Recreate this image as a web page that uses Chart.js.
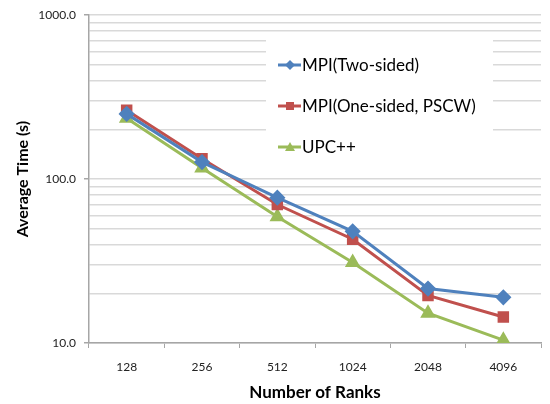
<!DOCTYPE html>
<html>
<head>
<meta charset="utf-8">
<script src="https://cdn.jsdelivr.net/npm/chart.js@4/dist/chart.umd.min.js"></script>
<style>
  html, body { margin: 0; padding: 0; background: #fff; }
  #wrap { width: 550px; height: 404px; }
</style>
</head>
<body>
<div id="wrap"><canvas id="myChart" width="550" height="404"></canvas></div>
<script>
var ranks = ["128", "256", "512", "1024", "2048", "4096"];
var twoSided = [250, 127, 77, 48, 21.5, 19.0];
var oneSided = [263, 133, 70, 43, 19.5, 14.4];
var upcxx = [235, 117, 59, 31, 15.2, 10.4];
var yGridValues = [10, 20, 30, 40, 50, 60, 70, 80, 90, 100, 200, 300, 400, 500, 600, 700, 800, 900, 1000];
var yLabelValues = [10, 100, 1000];

var FONT = "Lato, 'Open Sans', sans-serif";

// legend drawn inside the plot, on a white box, like the Excel original
var insideLegend = {
	id: "insideLegend",
	beforeDatasetsDraw: function (chart) {
		var ctx = chart.ctx;
		ctx.save();
		ctx.fillStyle = "#ffffff";
		ctx.fillRect(266, 40, 227, 130);
		chart.data.datasets.forEach(function (ds, i) {
			var y = 65 + i * 41;
			ctx.strokeStyle = ds.borderColor;
			ctx.lineWidth = 3;
			ctx.beginPath();
			ctx.moveTo(278, y);
			ctx.lineTo(301, y);
			ctx.stroke();
			ctx.fillStyle = ds.borderColor;
			ctx.beginPath();
			if (ds.pointStyle === "rectRot") {
				ctx.moveTo(290, y - 5);
				ctx.lineTo(295, y);
				ctx.lineTo(290, y + 5);
				ctx.lineTo(285, y);
			} else if (ds.pointStyle === "rect") {
				ctx.rect(286, y - 4, 8, 8);
			} else {
				ctx.moveTo(290, y - 5);
				ctx.lineTo(295, y + 4);
				ctx.lineTo(285, y + 4);
			}
			ctx.closePath();
			ctx.fill();
			ctx.fillStyle = "#000000";
			ctx.font = "17px " + FONT;
			ctx.textBaseline = "middle";
			ctx.textAlign = "left";
			ctx.fillText(ds.label, 302, y + 1);
		});
		ctx.restore();
	},
};

var ctx = document.getElementById("myChart").getContext("2d");
var myChart = new Chart(ctx, {
	type: "line",
	data: {
		labels: ranks,
		datasets: [
			{
				label: "MPI(Two-sided)",
				data: twoSided,
				borderColor: "#4F81BD",
				backgroundColor: "#4F81BD",
				pointStyle: "rectRot",
				pointRadius: 6,
				borderWidth: 3,
			},
			{
				label: "MPI(One-sided, PSCW)",
				data: oneSided,
				borderColor: "#C0504D",
				backgroundColor: "#C0504D",
				pointStyle: "rect",
				pointRadius: 6,
				borderWidth: 3,
			},
			{
				label: "UPC++",
				data: upcxx,
				borderColor: "#9BBB59",
				backgroundColor: "#9BBB59",
				pointStyle: "triangle",
				pointRadius: 6,
				borderWidth: 3,
			},
		],
	},
	options: {
		responsive: false,
		animation: false,
		layout: { padding: { top: 12, right: 5, left: 0, bottom: 0 } },
		plugins: {
			legend: { display: false },
			tooltip: { enabled: false },
		},
		scales: {
			x: {
				type: "category",
				offset: true,
				afterFit: function (scale) {
					scale.height = 61;
				},
				grid: {
					offset: true,
					drawOnChartArea: false,
					tickLength: 5,
					color: "#a6a6a6",
				},
				border: { color: "#a6a6a6", width: 1.5 },
				ticks: { color: "#222", font: { family: FONT, size: 12 }, padding: 12 },
				title: {
					display: true,
					text: "Number of Ranks",
					color: "#000",
					font: { family: FONT, size: 17, weight: "bold" },
					padding: { top: 4, bottom: 1 },
				},
			},
			y: {
				type: "logarithmic",
				min: 10,
				max: 1000,
				afterBuildTicks: function (scale) {
					scale.ticks = yGridValues.map(function (v) {
						return { value: v };
					});
				},
				afterFit: function (scale) {
					scale.width = 89;
				},
				grid: {
					color: "#d9d9d9",
					lineWidth: 1.5,
					tickLength: 5,
					tickColor: function (c) {
						return c.tick && yLabelValues.indexOf(c.tick.value) >= 0 ? "#a6a6a6" : "rgba(0,0,0,0)";
					},
				},
				border: { color: "#a6a6a6", width: 1.5 },
				ticks: {
					autoSkip: false,
					color: "#222",
					font: { family: FONT, size: 12 },
					padding: 8,
					callback: function (v) {
						return yLabelValues.indexOf(v) >= 0 ? v.toFixed(1) : "";
					},
				},
				title: {
					display: true,
					text: "Average Time (s)",
					color: "#000",
					font: { family: FONT, size: 16, weight: "bold" },
					padding: { top: 13, bottom: 4 },
				},
			},
		},
	},
	plugins: [insideLegend],
});
</script>
</body>
</html>
